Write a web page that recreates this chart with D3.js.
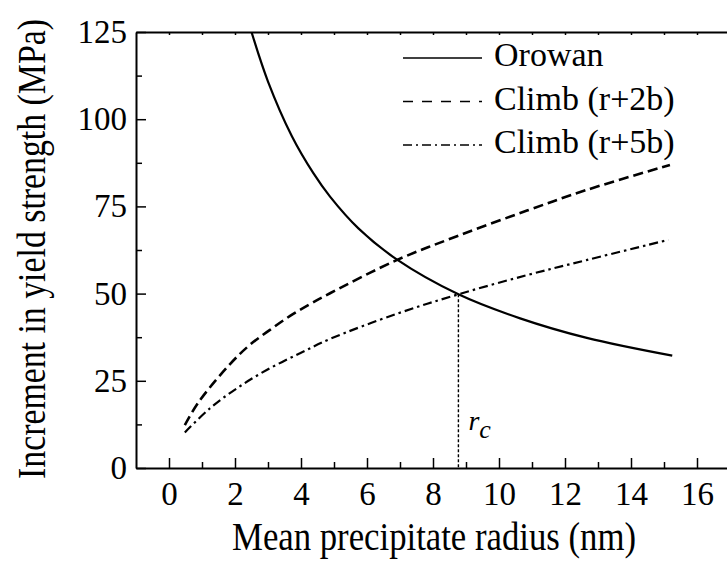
<!DOCTYPE html>
<html>
<head>
<meta charset="utf-8">
<script src="https://cdn.jsdelivr.net/npm/d3@7"></script>
<style>
    body { margin: 0; background: #fff; }
    svg, svg text { font-family: "Liberation Serif", "Times New Roman", serif; }
    .axis path, .axis line { stroke: #000; }
</style>
</head>
<body>
<div class="chart"></div>
<script>
// values
const orowanR = [2.5, 3.0, 3.72, 4.37, 4.88, 5.74, 6.9, 8.77, 10.64, 12.66, 15.25];
const orowanY = [125, 110.8, 95.2, 84.6, 77.8, 68.7, 59.8, 49.8, 42.9, 37.3, 32.2];

const climb2R = [0.48, 0.89, 1.85, 2.45, 3.06, 3.67, 4.27, 4.88, 6.9, 8.77, 10.85, 12.65, 15.18];
const climb2Y = [12.3, 18.8, 29.8, 35.3, 39.6, 43.6, 47.0, 50.1, 59.6, 66.6, 73.8, 79.7, 86.9];

const climb5R = [0.48, 1.24, 2.05, 2.96, 3.97, 4.88, 6.9, 8.77, 10.85, 12.65, 15.13];
const climb5Y = [10.2, 17.1, 22.8, 28.1, 32.9, 37.0, 44.2, 49.8, 55.3, 59.6, 65.4];

const rcPoint = [8.77, 49.8];

const legendLabels = ["Orowan", "Climb (r+2b)", "Climb (r+5b)"];
const xTicks = [0, 2, 4, 6, 8, 10, 12, 14, 16];
const xMinorTicks = [1, 3, 5, 7, 9, 11, 13, 15];
const yTicks = [0, 25, 50, 75, 100, 125];
const yMinorTicks = [12.5, 37.5, 62.5, 87.5, 112.5];

const W = 727, H = 567;
const margin = {top: 32, left: 136};
const plotW = 594, plotH = 436;

const svg = d3.select(".chart").append("svg")
    .attr("width", W)
    .attr("height", H)
    .style("display", "block");

const x = d3.scaleLinear().domain([-1, 17]).range([margin.left, margin.left + plotW]);
const y = d3.scaleLinear().domain([0, 125]).range([margin.top + plotH, margin.top]);

svg.append("clipPath").attr("id", "plot-clip")
    .append("rect")
    .attr("x", x(-1)).attr("y", y(125))
    .attr("width", plotW).attr("height", plotH);

// axes
svg.append("g")
    .attr("class", "axis x")
    .attr("transform", "translate(0," + y(0) + ")")
    .call(d3.axisBottom(x).tickValues(xTicks).tickSize(-10).tickSizeOuter(0).tickPadding(14));

svg.append("g")
    .attr("class", "axis x-minor")
    .attr("transform", "translate(0," + y(0) + ")")
    .call(d3.axisBottom(x).tickValues(xMinorTicks).tickSize(-6).tickSizeOuter(0).tickFormat(""))
    .select(".domain").remove();

svg.append("g")
    .attr("class", "axis y")
    .attr("transform", "translate(" + x(-1) + ",0)")
    .call(d3.axisLeft(y).tickValues(yTicks).tickSize(-10).tickSizeOuter(0).tickPadding(9));

svg.append("g")
    .attr("class", "axis y-minor")
    .attr("transform", "translate(" + x(-1) + ",0)")
    .call(d3.axisLeft(y).tickValues(yMinorTicks).tickSize(-6).tickSizeOuter(0).tickFormat(""))
    .select(".domain").remove();

svg.append("g")
    .attr("class", "axis top")
    .attr("transform", "translate(0," + y(125) + ")")
    .call(d3.axisTop(x).tickValues(d3.range(0, 17)).tickSize(-3).tickSizeOuter(0).tickFormat(""));

svg.selectAll(".axis").attr("font-family", null).attr("font-size", null);
svg.selectAll(".axis .domain").attr("stroke-width", 2);
svg.selectAll(".axis .tick line").attr("stroke-width", 1.5);
svg.selectAll(".axis text").attr("fill", "#000").style("font-size", "33px");

// curves
const line = d3.line()
    .x(d => x(d[0]))
    .y(d => y(d[1]))
    .curve(d3.curveCatmullRom.alpha(0.5));

const plot = svg.append("g").attr("clip-path", "url(#plot-clip)");

const series = [
    {r: orowanR, v: orowanY, dash: null, width: 2.2},
    {r: climb2R, v: climb2Y, dash: "10,5", width: 2.6},
    {r: climb5R, v: climb5Y, dash: "9,4,2.5,4", width: 2.2}
];

series.forEach(s => {
    plot.append("path")
        .datum(s.r.map((r, i) => [r, s.v[i]]))
        .attr("fill", "none")
        .attr("stroke", "#000")
        .attr("stroke-width", s.width)
        .attr("stroke-dasharray", s.dash)
        .attr("d", line);
});

// critical radius marker
plot.append("line")
    .attr("x1", x(rcPoint[0])).attr("x2", x(rcPoint[0]))
    .attr("y1", y(rcPoint[1])).attr("y2", y(0))
    .attr("stroke", "#000")
    .attr("stroke-width", 1.4)
    .attr("stroke-dasharray", "3,2");

const rcLabel = svg.append("text")
    .attr("x", x(rcPoint[0]) + 10)
    .attr("y", 430)
    .style("font-size", "28px")
    .style("font-style", "italic");
rcLabel.append("tspan").text("r");
rcLabel.append("tspan").attr("dy", 8).style("font-size", "26px").text("c");

// legend
const legendDash = [null, "10,9", "9,4,2,4"];
const legend = svg.append("g").attr("transform", "translate(403,66)");

legendLabels.forEach((label, i) => {
    const row = legend.append("g").attr("transform", "translate(0," + (i * 43.5) + ")");
    row.append("line")
        .attr("x1", 0).attr("x2", 79)
        .attr("y1", -8).attr("y2", -8)
        .attr("stroke", "#000")
        .attr("stroke-width", 1.6)
        .attr("stroke-dasharray", legendDash[i]);
    row.append("text")
        .attr("x", 91)
        .style("font-size", "34px")
        .text(label);
});

// axis titles
svg.append("text")
    .attr("x", 434)
    .attr("y", 550)
    .attr("text-anchor", "middle")
    .style("font-size", "40px")
    .attr("textLength", 404)
    .attr("lengthAdjust", "spacingAndGlyphs")
    .text("Mean precipitate radius (nm)");

svg.append("text")
    .attr("transform", "translate(45,249) rotate(-90)")
    .attr("text-anchor", "middle")
    .style("font-size", "39px")
    .attr("textLength", 460)
    .attr("lengthAdjust", "spacingAndGlyphs")
    .text("Increment in yield strength (MPa)");
</script>
</body>
</html>
